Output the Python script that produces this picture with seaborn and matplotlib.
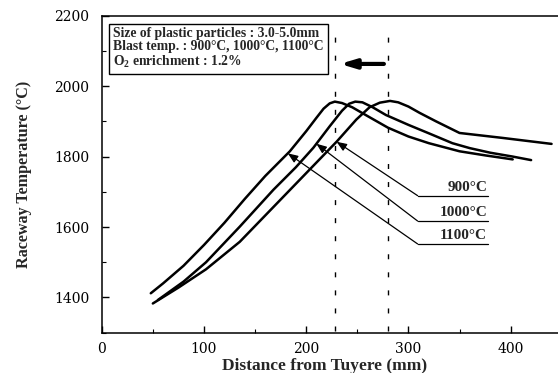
import numpy as np
import pandas as pd
import matplotlib
matplotlib.use("Agg")
import matplotlib.pyplot as plt
from matplotlib.ticker import MultipleLocator
import seaborn as sns

# Raceway temperature profiles for three blast temperatures
blast_labels = ["900°C", "1000°C", "1100°C"]

dist_900 = [50, 75, 102, 135, 174, 210, 230, 249, 262, 272, 282, 290, 300, 311, 327, 350, 392, 440]
temp_900 = [1383, 1428, 1480, 1558, 1675, 1783, 1843, 1905, 1940, 1953, 1958, 1954, 1942, 1924, 1900, 1867, 1853, 1836]

dist_1000 = [55, 80, 102, 135, 168, 190, 207, 223, 235, 242, 248, 255, 265, 278, 300, 320, 343, 360, 380, 402, 420]
temp_1000 = [1393, 1445, 1500, 1601, 1706, 1770, 1825, 1886, 1930, 1950, 1956, 1954, 1940, 1918, 1890, 1866, 1838, 1824, 1811, 1800, 1790]

dist_1100 = [48, 60, 80, 100, 120, 140, 160, 184, 200, 210, 217, 223, 228, 235, 245, 260, 280, 300, 320, 350, 376, 402]
temp_1100 = [1412, 1440, 1490, 1549, 1612, 1680, 1745, 1815, 1872, 1910, 1936, 1951, 1956, 1952, 1940, 1915, 1882, 1857, 1838, 1815, 1803, 1792]

# where each label's leader line meets its curve, and the label's level
leader_x = [229.7, 210, 182]
label_y = [1689, 1617, 1552]

# peak positions marked by dashed lines
peak_lines = [228, 280]

series = [(dist_900, temp_900), (dist_1000, temp_1000), (dist_1100, temp_1100)]
df = pd.concat(
    [pd.DataFrame({"distance": d, "temperature": t, "blast": lab})
     for lab, (d, t) in zip(blast_labels, series)],
    ignore_index=True,
)

sns.set_theme(style="ticks")
plt.rcParams["font.family"] = ["Liberation Serif", "DejaVu Serif"]
plt.rcParams["mathtext.fontset"] = "custom"
plt.rcParams["mathtext.rm"] = "Liberation Serif:bold"
plt.rcParams["mathtext.bf"] = "Liberation Serif:bold"

fig = plt.figure(figsize=(5.58, 3.73), dpi=100)
ax = fig.add_axes([0.1823, 0.108, 0.8177, 0.850])

sns.lineplot(data=df, x="distance", y="temperature", hue="blast",
             palette=["black"] * 3, sort=False, estimator=None,
             linewidth=1.8, legend=False, ax=ax)
for line in ax.get_lines():
    line.set_solid_joinstyle("round")
    line.set_solid_capstyle("round")

ax.set_xlim(0, 446.3)
ax.set_ylim(1300, 2200)

# dashed markers at the peak positions
ax.vlines(peak_lines, 1305, 2160, colors="black", linewidth=1.0,
          linestyles=[(0, (3.6, 9.4))])

# thick arrow: peak shifts toward the tuyere
ax.annotate("", xy=(233, 2063), xytext=(276, 2063),
            arrowprops=dict(arrowstyle="-|>,head_length=0.6,head_width=0.18",
                            color="black", lw=3.0, mutation_scale=15,
                            shrinkA=0, shrinkB=0))

# labelled leader lines pointing at each curve
for lab, (d, t), lx, ly in zip(blast_labels, series, leader_x, label_y):
    cy = float(np.interp(lx, d, t))
    ax.annotate("", xy=(lx, cy), xytext=(309, ly),
                arrowprops=dict(arrowstyle="-|>,head_length=0.5,head_width=0.2",
                                color="black", lw=0.9, mutation_scale=12,
                                shrinkA=0, shrinkB=0))
    ax.plot([309, 378], [ly, ly], color="black", linewidth=0.9)
    ax.text(377, ly + 6, lab, ha="right", va="bottom", fontsize=11,
            fontweight="bold")

# conditions box
ax.text(11.3, 2168,
        "Size of plastic particles : 3.0-5.0mm\n"
        "Blast temp. : 900°C, 1000°C, 1100°C\n"
        "O$_2$ enrichment : 1.2%",
        ha="left", va="top", fontsize=9.8, fontweight="bold", linespacing=1.03,
        bbox=dict(boxstyle="square,pad=0.3", facecolor="white",
                  edgecolor="black", linewidth=1.0))

ax.set_xticks([0, 100, 200, 300, 400])
ax.set_yticks([1400, 1600, 1800, 2000, 2200])
ax.xaxis.set_minor_locator(MultipleLocator(50))
ax.yaxis.set_minor_locator(MultipleLocator(100))
ax.tick_params(which="both", direction="in", top=False, right=False,
               colors="black")
ax.tick_params(which="major", length=5, width=1.0)
ax.tick_params(axis="x", which="major", pad=7)
ax.tick_params(axis="y", which="major", pad=9)
ax.tick_params(which="minor", length=3, width=0.8)
for lbl in ax.get_xticklabels() + ax.get_yticklabels():
    lbl.set_fontfamily("DejaVu Serif")
    lbl.set_fontsize(10)

ax.set_xlabel("Distance from Tuyere (mm)", fontsize=12.5, fontweight="bold")
ax.set_ylabel("Raceway Temperature (°C)", fontsize=11.6, fontweight="bold")
ax.xaxis.set_label_coords(0.489, -0.08)
ax.yaxis.set_label_coords(-0.153, 0.5)

for side in ["left", "bottom", "top"]:
    ax.spines[side].set_linewidth(1.1)
    ax.spines[side].set_color("black")
ax.spines["right"].set_visible(False)
ax.set_facecolor("white")
fig.patch.set_facecolor("white")

fig.savefig("out.png", dpi=100)
